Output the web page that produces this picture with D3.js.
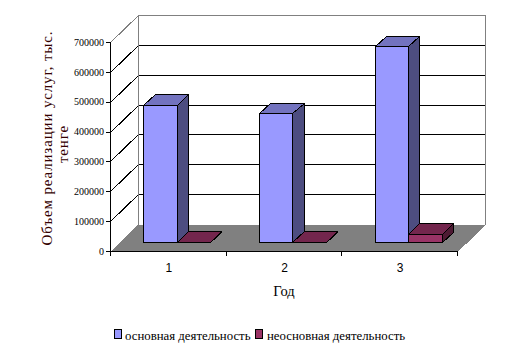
<!DOCTYPE html>
<html>
<head>
<meta charset="utf-8">
<script src="https://cdn.jsdelivr.net/npm/d3@7"></script>
<style>
  html, body { margin: 0; padding: 0; background: #fff; overflow: hidden; }
</style>
</head>
<body>
<div id="chart"></div>
<script>
// data
const years = ["1", "2", "3"];
const seriesNames = ["основная деятельность", "неосновная деятельность"];
const mainValues = [460000, 432000, 656000];
const otherValues = [800, 800, 27000];
const yTicks = [0, 100000, 200000, 300000, 400000, 500000, 600000, 700000];

const width = 517;
const height = 353;
const serif = `"Liberation Serif", "Times New Roman", serif`;
const sans = `"Liberation Sans", Arial, sans-serif`;

// front plane of the plot
const plot = {left: 110, right: 457, top: 42, bottom: 251};
// how far the back wall is shifted from the front plane
const depthX = 28;
const depthY = -27;
// where the bars stand between front (0) and back (1)
const barZ0 = 0.32;
const barZ1 = 0.72;

const colors = {
    main: {front: "#9999ff", top: "#7373bf", side: "#4d4d80"},
    other: {front: "#993366", top: "#73264d", side: "#4d1a33"}
};
const seriesKeys = ["main", "other"];
const seriesValues = {main: mainValues, other: otherValues};

const xScale = d3.scaleBand().domain(years).range([plot.left, plot.right]);
const xInner = d3.scaleBand()
    .domain(seriesKeys)
    .range([0, xScale.bandwidth()])
    .paddingInner(0)
    .paddingOuter(0.73);
const yScale = d3.scaleLinear().domain([0, 700000]).range([plot.bottom, plot.top]);

// 3d point -> screen, snapped to the pixel grid so lines stay sharp
const px = (x, z) => Math.round(x + z * depthX) + 0.5;
const py = (v, z) => Math.round(yScale(v) + z * depthY) + 0.5;
const pts = (list) => list.map(p => p.join(",")).join(" ");

const svg = d3.select("#chart").append("svg")
    .attr("width", width)
    .attr("height", height)
    .attr("shape-rendering", "crispEdges")
    .style("display", "block");

// floor
svg.append("polygon")
    .attr("points", pts([
        [px(plot.left, 0), py(0, 0)],
        [px(plot.left, 1), py(0, 1)],
        [px(plot.right, 1), py(0, 1)],
        [px(plot.right, 0), py(0, 0)]
    ]))
    .attr("fill", "#808080");

// back wall grid lines, and the ones going along the left wall
const grid = svg.append("g");
yTicks.filter(d => d > 0 && d < 700000).forEach(d => {
    grid.append("line")
        .attr("x1", px(plot.left, 1)).attr("x2", px(plot.right, 1))
        .attr("y1", py(d, 1)).attr("y2", py(d, 1))
        .attr("stroke", "#000");
    grid.append("line")
        .attr("x1", px(plot.left, 0)).attr("x2", px(plot.left, 1))
        .attr("y1", py(d, 0)).attr("y2", py(d, 1))
        .attr("stroke", "#000");
});

// wall outline
svg.append("polyline")
    .attr("points", pts([
        [px(plot.left, 0), py(700000, 0)],
        [px(plot.left, 1), py(700000, 1)],
        [px(plot.right, 1), py(700000, 1)],
        [px(plot.right, 1), py(0, 1)],
        [px(plot.right, 0), py(0, 0)]
    ]))
    .attr("fill", "none").attr("stroke", "#808080");
svg.append("line")
    .attr("x1", px(plot.left, 1)).attr("x2", px(plot.left, 1))
    .attr("y1", py(700000, 1)).attr("y2", py(0, 1))
    .attr("stroke", "#808080");

// bars
const bars = svg.append("g").attr("stroke", "#000");
years.forEach((year, i) => {
    seriesKeys.forEach(key => {
        const x0 = xScale(year) + xInner(key);
        const x1 = x0 + xInner.bandwidth();
        const v = seriesValues[key][i];
        const c = colors[key];
        // side
        bars.append("polygon")
            .attr("points", pts([
                [px(x1, barZ0), py(0, barZ0)],
                [px(x1, barZ1), py(0, barZ1)],
                [px(x1, barZ1), py(v, barZ1)],
                [px(x1, barZ0), py(v, barZ0)]
            ]))
            .attr("fill", c.side);
        // top
        bars.append("polygon")
            .attr("points", pts([
                [px(x0, barZ0), py(v, barZ0)],
                [px(x0, barZ1), py(v, barZ1)],
                [px(x1, barZ1), py(v, barZ1)],
                [px(x1, barZ0), py(v, barZ0)]
            ]))
            .attr("fill", c.top);
        // front
        bars.append("polygon")
            .attr("points", pts([
                [px(x0, barZ0), py(0, barZ0)],
                [px(x0, barZ0), py(v, barZ0)],
                [px(x1, barZ0), py(v, barZ0)],
                [px(x1, barZ0), py(0, barZ0)]
            ]))
            .attr("fill", c.front);
    });
});

// axes
const yAxis = svg.append("g")
    .attr("transform", `translate(${plot.left},0)`)
    .call(d3.axisLeft(yScale).tickValues(yTicks).tickFormat(d3.format("d")).tickSize(4).tickPadding(2));
yAxis.selectAll("text").style("font", `10px ${serif}`).attr("fill", "#000");
yAxis.selectAll("path, line").attr("stroke", "#000");

const xAxis = svg.append("g")
    .attr("transform", `translate(0,${plot.bottom})`)
    .call(d3.axisBottom(xScale).tickSize(4).tickPadding(8));
xAxis.selectAll("text").style("font", `12px ${sans}`).attr("fill", "#000").attr("dx", 1);
xAxis.selectAll("path").attr("stroke", "#000");
// ticks go between the years, not under them
xAxis.selectAll(".tick line").remove();
xScale.range().concat(years.slice(1).map(y => xScale(y))).forEach(x => {
    xAxis.append("line")
        .attr("x1", px(x, 0)).attr("x2", px(x, 0)).attr("y1", 0).attr("y2", 4.5)
        .attr("stroke", "#000");
});

// axis titles
const yTitle = svg.append("text")
    .attr("transform", "translate(46,144) rotate(-90)")
    .attr("text-anchor", "middle")
    .style("font", `15px ${serif}`)
    .style("letter-spacing", "0.85px")
    .attr("fill", "#330000");
yTitle.append("tspan").attr("x", 6).attr("y", 6).text("Объем реализации услуг, тыс.");
yTitle.append("tspan").attr("x", 0).attr("y", 22).text("тенге");

svg.append("text")
    .attr("x", 284).attr("y", 296)
    .attr("text-anchor", "middle")
    .style("font", `14.5px ${serif}`)
    .attr("fill", "#000")
    .text("Год");

// legend
const legendX = [114, 255];
seriesKeys.forEach((key, i) => {
    svg.append("rect")
        .attr("x", legendX[i] + 0.5).attr("y", 329.5)
        .attr("width", 7).attr("height", 9)
        .attr("fill", colors[key].front)
        .attr("stroke", "#000");
    svg.append("text")
        .attr("x", legendX[i] + 11 + i).attr("y", 340)
        .style("font", `12.8px ${serif}`)
        .attr("fill", "#000")
        .text(seriesNames[i]);
});
</script>
</body>
</html>
